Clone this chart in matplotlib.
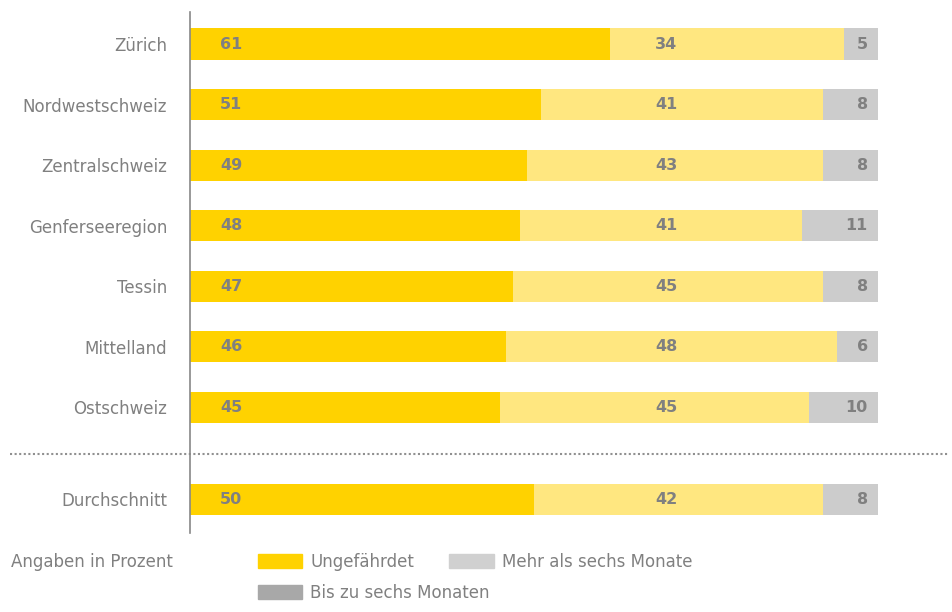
import matplotlib
matplotlib.use('Agg')
import matplotlib.pyplot as plt
from matplotlib.patches import Patch

# Data
regions = ['Zürich', 'Nordwestschweiz', 'Zentralschweiz', 'Genferseeregion',
           'Tessin', 'Mittelland', 'Ostschweiz', 'Durchschnitt']
ungefaehrdet = [61, 51, 49, 48, 47, 46, 45, 50]
mehr_als_6 = [34, 41, 43, 41, 45, 48, 45, 42]
bis_zu_6 = [5, 8, 8, 11, 8, 6, 10, 8]

# row positions (gap before the average row)
ypos = [0, 1, 2, 3, 4, 5, 6, 7.52]

c_yellow = '#FFD200'
c_light = '#FFE780'
c_grey = '#CCCCCC'
c_text = '#808080'

fig = plt.figure(figsize=(9.53, 6.12), dpi=100)
ax = fig.add_axes([190/953, 1-533/612, 688/953, (533-12)/612])

h = 0.515
left2 = [a for a in ungefaehrdet]
left3 = [a + b for a, b in zip(ungefaehrdet, mehr_als_6)]
ax.barh(ypos, ungefaehrdet, height=h, color=c_yellow, linewidth=0)
ax.barh(ypos, mehr_als_6, left=left2, height=h, color=c_light, linewidth=0)
ax.barh(ypos, bis_zu_6, left=left3, height=h, color=c_grey, linewidth=0)

for y, a, b, c in zip(ypos, ungefaehrdet, mehr_als_6, bis_zu_6):
    ax.text(4.4, y, str(a), ha='left', va='center', fontsize=11.5,
            fontweight='bold', color=c_text)
    ax.text(69.2, y, str(b), ha='center', va='center', fontsize=11.5,
            fontweight='bold', color=c_text)
    ax.text(a + b + c - 1.5, y, str(c), ha='right', va='center', fontsize=11.5,
            fontweight='bold', color=c_text)

ax.set_xlim(0, 100)
ax.set_ylim(8.08, -0.53)
ax.set_yticks(ypos)
ax.set_yticklabels(regions, fontsize=12, color=c_text)
ax.tick_params(axis='y', length=0, pad=16.5)
ax.set_xticks([])
for s in ['top', 'right', 'bottom']:
    ax.spines[s].set_visible(False)
ax.spines['left'].set_color('#888888')
ax.spines['left'].set_linewidth(1.2)

# dotted separator above the average row
ax.plot([-26.2, 110.2], [6.78, 6.78], linestyle=(0, (1, 1.2)), color='#909090',
        linewidth=1.5, clip_on=False)

fig.text(11/953, 1-562/612, 'Angaben in Prozent', fontsize=12, color=c_text,
         ha='left', va='center')

# legend: two rows, placed like the original
row1 = [Patch(color=c_yellow, label='Ungefährdet'),
        Patch(color='#D0D0D0', label='Mehr als sechs Monate')]
row2 = [Patch(color='#A8A8A8', label='Bis zu sechs Monaten')]
leg_kw = dict(frameon=False, fontsize=12, handlelength=2.65, handleheight=0.9,
              handletextpad=0.5, borderpad=0, borderaxespad=0, loc='center left')
leg1 = fig.legend(handles=row1, ncol=2, columnspacing=2.1,
                  bbox_to_anchor=(258/953, 1-562/612), **leg_kw)
leg2 = fig.legend(handles=row2, ncol=1,
                  bbox_to_anchor=(258/953, 1-593/612), **leg_kw)
for leg in (leg1, leg2):
    for t in leg.get_texts():
        t.set_color(c_text)

plt.savefig('out.png', dpi=100)
